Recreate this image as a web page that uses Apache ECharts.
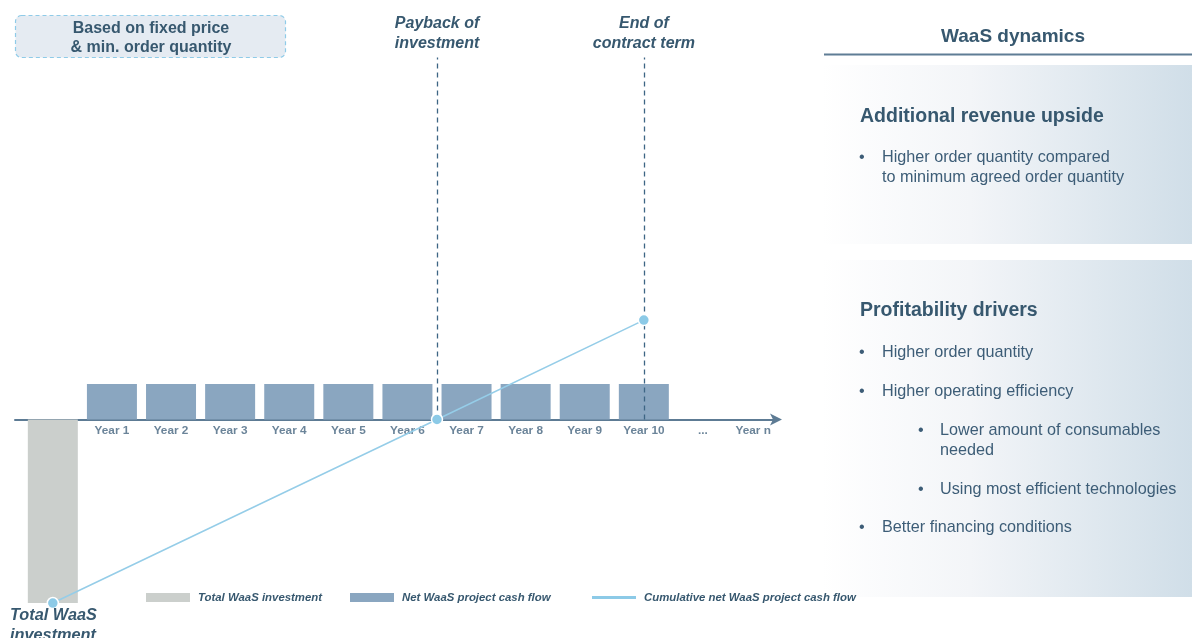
<!DOCTYPE html>
<html>
<head>
<meta charset="utf-8">
<script src="https://cdn.jsdelivr.net/npm/echarts@6/dist/echarts.min.js"></script>
<style>
  html, body { margin: 0; padding: 0; background: #ffffff; }
  #chart { width: 1192px; height: 638px; }
</style>
</head>
<body>
<div id="chart"></div>
<script>
// Schematic WaaS cash flow profile (values in units of one year's net cash flow)
const investmentPoint = [[0, -5.17]];
const yearPositions = [1, 2, 3, 4, 5, 6, 7, 8, 9, 10];
const netCashFlow = [1, 1, 1, 1, 1, 1, 1, 1, 1, 1];
const cumulativeX = [0, 6.5, 10];
const cumulativeY = [-5.17, 0, 2.8];
const tickPositions = [1, 2, 3, 4, 5, 6, 7, 8, 9, 10, 11, 11.85];
const tickLabels = ['Year 1', 'Year 2', 'Year 3', 'Year 4', 'Year 5', 'Year 6', 'Year 7', 'Year 8', 'Year 9', 'Year 10', '...', 'Year n'];
const milestoneX = [6.5, 10];
const milestoneLabels = ['Payback of\ninvestment', 'End of\ncontract term'];
const seriesNames = ['Total WaaS investment', 'Net WaaS project cash flow', 'Cumulative net WaaS project cash flow'];

const FONT = '"Liberation Sans", Arial, sans-serif';
const DARK = '#37586f';
const BODY = '#3d5d77';

const chart = echarts.init(document.getElementById('chart'), null, { renderer: 'canvas' });

const netData = yearPositions.map((x, i) => [x, netCashFlow[i]]);
const cumData = cumulativeX.map((x, i) => [x, cumulativeY[i]]);
const tickData = tickPositions.map((x, i) => [x, 0, tickLabels[i]]);

// milestone annotations placed above their dashed guide lines
const milestoneTexts = milestoneX.map((x, i) => ({
  type: 'text',
  z: 10,
  style: {
    text: milestoneLabels[i],
    x: 0, y: 0,
    align: 'center', verticalAlign: 'top',
    font: 'italic bold 16px ' + FONT,
    fill: DARK,
    lineHeight: 20
  },
  position: [52.9 + x * 59.1, 14]
}));

function panelGradient() {
  return new echarts.graphic.LinearGradient(0, 0, 1, 0, [
    { offset: 0, color: '#ffffff' },
    { offset: 0.4, color: '#f3f5f8' },
    { offset: 1, color: '#d0dee8' }
  ]);
}

function txt(x, y, text, font, color) {
  return {
    type: 'text', z: 10,
    style: { text: text, x: x, y: y, font: font, fill: color || BODY, verticalAlign: 'middle', align: 'left' }
  };
}

const bodyFont = '16.2px ' + FONT;
const headFont = 'bold 19.5px ' + FONT;

const graphics = [
  // note box, top left
  {
    type: 'rect', z: 5,
    shape: { x: 15.5, y: 15.5, width: 270, height: 42, r: 6 },
    style: { fill: '#e5ebf2', stroke: '#8fcbe8', lineWidth: 1.2, lineDash: [4, 3] }
  },
  {
    type: 'text', z: 10,
    style: {
      text: 'Based on fixed price\n& min. order quantity',
      x: 151, y: 38.5, align: 'center', verticalAlign: 'middle',
      font: 'bold 16px ' + FONT, fill: DARK, lineHeight: 19
    }
  },
  ...milestoneTexts,
  // right panel header
  {
    type: 'text', z: 10,
    style: { text: 'WaaS dynamics', x: 1013, y: 37, align: 'center', verticalAlign: 'middle', font: 'bold 19px ' + FONT, fill: DARK }
  },
  {
    type: 'line', z: 10,
    shape: { x1: 824, y1: 54.5, x2: 1192, y2: 54.5 },
    style: { stroke: '#5f7d95', lineWidth: 2 }
  },
  // panel backgrounds
  { type: 'rect', z: 1, shape: { x: 822, y: 65, width: 370, height: 179 }, style: { fill: panelGradient() } },
  { type: 'rect', z: 1, shape: { x: 822, y: 260, width: 370, height: 337 }, style: { fill: panelGradient() } },
  // panel 1
  txt(860, 117, 'Additional revenue upside', headFont, DARK),
  txt(859, 158, '•', bodyFont),
  txt(882, 158, 'Higher order quantity compared', bodyFont),
  txt(882, 177.5, 'to minimum agreed order quantity', bodyFont),
  // panel 2
  txt(860, 311, 'Profitability drivers', headFont, DARK),
  txt(859, 353, '•', bodyFont),
  txt(882, 353, 'Higher order quantity', bodyFont),
  txt(859, 391.5, '•', bodyFont),
  txt(882, 391.5, 'Higher operating efficiency', bodyFont),
  txt(918, 430.5, '•', bodyFont),
  txt(940, 430.5, 'Lower amount of consumables', bodyFont),
  txt(940, 450.5, 'needed', bodyFont),
  txt(918, 489.5, '•', bodyFont),
  txt(940, 489.5, 'Using most efficient technologies', bodyFont),
  txt(859, 528, '•', bodyFont),
  txt(882, 528, 'Better financing conditions', bodyFont),
  // investment caption
  {
    type: 'text', z: 10,
    style: {
      text: 'Total WaaS\ninvestment', x: 10, y: 606, align: 'left', verticalAlign: 'top',
      font: 'italic bold 16.3px ' + FONT, fill: DARK, lineHeight: 20
    }
  }
];

const legendText = { fontFamily: FONT, fontSize: 11.4, fontStyle: 'italic', fontWeight: 'bold', color: DARK, padding: [0, 0, 0, 3] };

const option = {
  animation: false,
  backgroundColor: '#ffffff',
  textStyle: { fontFamily: FONT },
  grid: { left: 15, width: 763, top: 29, height: 568 + 35.5 },
  xAxis: {
    type: 'value', min: -0.64, max: 12.27,
    axisLine: {
      onZero: true, lineStyle: { color: '#5d7b94', width: 2 },
      symbol: ['none', 'arrow'], symbolSize: [9, 12], symbolOffset: [0, 4]
    },
    axisTick: { show: false }, axisLabel: { show: false }, splitLine: { show: false }
  },
  yAxis: {
    type: 'value', min: -6, max: 11, show: false, splitLine: { show: false }
  },
  legend: [
    {
      data: [seriesNames[0]], left: 146, top: 592, padding: 0, itemWidth: 44, itemHeight: 9,
      icon: 'rect', textStyle: legendText, selectedMode: false
    },
    {
      data: [seriesNames[1]], left: 350, top: 592, padding: 0, itemWidth: 44, itemHeight: 9,
      icon: 'rect', textStyle: legendText, selectedMode: false
    },
    {
      data: [seriesNames[2]], left: 592, top: 592, padding: 0, itemWidth: 44, itemHeight: 3,
      icon: 'rect', textStyle: legendText, selectedMode: false,
      itemStyle: { color: '#8ccae7', borderWidth: 0 }
    }
  ],
  graphic: graphics,
  series: [
    {
      name: seriesNames[0], type: 'bar', data: investmentPoint, barWidth: 50, barGap: '-100%',
      itemStyle: { color: '#cbcfcc' }, z: 2
    },
    {
      name: seriesNames[1], type: 'bar', data: netData, barWidth: 50, barGap: '-100%',
      itemStyle: { color: '#8aa6c0' }, z: 2
    },
    {
      name: 'ticks', type: 'scatter', data: tickData, symbolSize: 0, silent: true, z: 3,
      label: {
        show: true, position: 'bottom', distance: 5,
        formatter: p => p.data[2],
        fontFamily: FONT, fontSize: 11.8, fontWeight: 'bold', color: '#46657f'
      }
    },
    {
      name: seriesNames[2], type: 'line', data: cumData, z: 5,
      symbol: 'circle', symbolSize: 11, showAllSymbol: true,
      lineStyle: { color: '#95cde8', width: 1.5 },
      itemStyle: { color: '#8ccae7', borderColor: '#ffffff', borderWidth: 1.5 },
      markLine: {
        silent: true, symbol: ['none', 'none'], label: { show: false },
        lineStyle: { color: '#3d6584', type: [5, 4], width: 1.3 },
        data: milestoneX.map(x => [{ coord: [x, 0] }, { coord: [x, 10.2] }])
      }
    }
  ]
};

chart.setOption(option);
</script>
</body>
</html>
